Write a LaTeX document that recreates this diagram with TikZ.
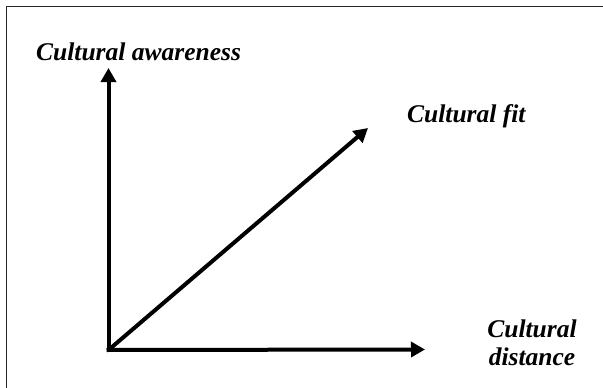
\documentclass[tikz,border=0pt]{standalone}
\usepackage{fontspec}
\setmainfont{Liberation Serif}
\usetikzlibrary{arrows.meta}
\begin{document}
\begin{tikzpicture}[x=1pt,y=-1pt,
  axis/.style={line width=4pt, -{Triangle[length=14pt,width=15pt]}},
  lbl/.style={inner sep=0pt, font=\fontsize{25.5}{28}\selectfont\bfseries\itshape},
  frame/.style={draw=black!85, line width=1.8pt}]
  \useasboundingbox (0,0) rectangle (603,388);
  % outer frame (right and bottom edges lie outside the page)
  \begin{scope}
    \clip (0,0) rectangle (603,388);
    \draw[frame] (6.5,6.5) rectangle (620,400);
  \end{scope}
  % origin and axis tips
  \coordinate (O) at (108.5,350);
  \coordinate (Ob) at (108.5,352);
  \coordinate (Ol) at (106.5,350);
  \coordinate (yTip) at (108.5,68);
  \coordinate (xTip) at (425,349.5);
  \coordinate (dTip) at (368,128);
  % axes
  \draw[axis] (Ob) -- (yTip);
  \draw[axis] (Ol) -- (xTip);
  \draw[axis] (O) -- (dTip);
  % labels
  \node[lbl, anchor=base west] (aware) at (36,60) {Cultural awareness};
  \node[lbl, anchor=base west] (fit) at (407,122) {Cultural fit};
  \node[lbl, anchor=north, align=center] (dist) at (532,319.5) {Cultural\\distance};
\end{tikzpicture}
\end{document}
